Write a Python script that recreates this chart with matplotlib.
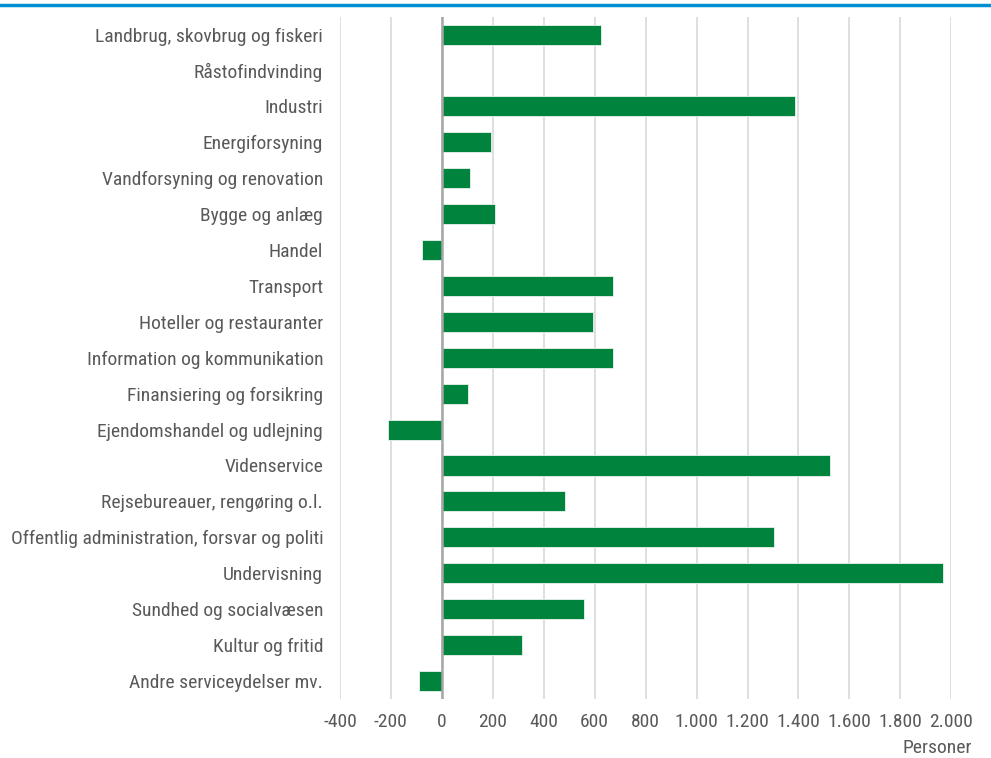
import matplotlib
matplotlib.use('Agg')
import matplotlib.pyplot as plt
from matplotlib.ticker import FuncFormatter, MultipleLocator

# === DATA ===
kategorier = [
    "Landbrug, skovbrug og fiskeri",
    "Råstofindvinding",
    "Industri",
    "Energiforsyning",
    "Vandforsyning og renovation",
    "Bygge og anlæg",
    "Handel",
    "Transport",
    "Hoteller og restauranter",
    "Information og kommunikation",
    "Finansiering og forsikring",
    "Ejendomshandel og udlejning",
    "Videnservice",
    "Rejsebureauer, rengøring o.l.",
    "Offentlig administration, forsvar og politi",
    "Undervisning",
    "Sundhed og socialvæsen",
    "Kultur og fritid",
    "Andre serviceydelser mv.",
]
personer = [625, 0, 1387, 192, 110, 208, -79, 672, 593, 672,
            102, -212, 1525, 483, 1304, 1969, 558, 314, -90]

GRON = '#00843d'
TEKST = '#595959'

plt.rcParams['font.family'] = ['Liberation Sans Narrow', 'Roboto Condensed', 'Liberation Sans', 'DejaVu Sans']

fig = plt.figure(figsize=(9.91, 7.58), dpi=100)
ax = fig.add_axes([0.343, 0.078, 0.617, 0.9])

y = list(range(len(kategorier)))
ax.barh(y, personer, height=0.56, color=GRON, edgecolor='#e8f3ec', linewidth=0.6, zorder=3)

ax.set_xlim(-400, 2000)
ax.set_ylim(len(kategorier) - 0.5, -0.5)
ax.xaxis.set_major_locator(MultipleLocator(200))
ax.xaxis.set_major_formatter(FuncFormatter(lambda v, p: f"{int(v):,}".replace(",", ".")))
ax.grid(axis='x', color='#d9d9d9', linewidth=1.2, zorder=0)
ax.axvline(0, color='#a6a6a6', linewidth=1.8, zorder=4)

ax.set_yticks(y)
ax.set_yticklabels(kategorier)
ax.tick_params(axis='both', length=0, colors=TEKST, labelsize=14)
ax.tick_params(axis='y', pad=12)
ax.tick_params(axis='x', pad=10)
for s in ax.spines.values():
    s.set_visible(False)

# akseetiket stikker lidt ud til hoejre, som i originalen
fig.text(0.981, 0.0135, "Personer", color=TEKST, fontsize=14, ha='right', va='center')

# blaa linje i toppen
fig.add_artist(plt.Line2D([0, 1], [0.9935, 0.9935], color='#0091d2', linewidth=2.5))

fig.savefig("out.png", dpi=100)
